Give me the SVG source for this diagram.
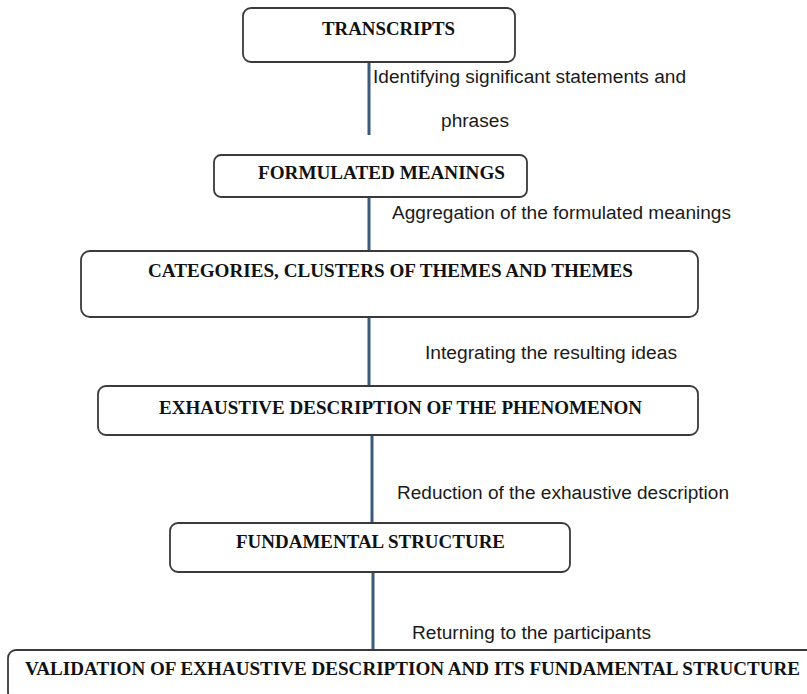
<svg xmlns="http://www.w3.org/2000/svg" width="807" height="694" viewBox="0 0 807 694">
<style>
.box{fill:#fff;stroke:#3a3a3a;stroke-width:1.8}
.t{font-family:"Liberation Serif","Times New Roman",serif;font-weight:bold;font-size:19.5px;fill:#111}
.l{font-family:"Liberation Sans",Arial,sans-serif;font-size:18px;fill:#1a1a1a}
.c{stroke:#3c5a7c;stroke-width:3;fill:none}
</style>
<g id="connectors">
<line class="c" x1="369" y1="62" x2="369" y2="135"/>
<line class="c" x1="369" y1="197" x2="369" y2="251"/>
<line class="c" x1="369" y1="317" x2="369" y2="386"/>
<line class="c" x1="372" y1="435" x2="372" y2="523"/>
<line class="c" x1="373" y1="572" x2="373" y2="650"/>
<text class="l" x="373" y="83" textLength="313" lengthAdjust="spacingAndGlyphs">Identifying significant statements and</text>
<text class="l" x="441" y="127" textLength="68" lengthAdjust="spacingAndGlyphs">phrases</text>
<text class="l" x="392" y="219" textLength="339" lengthAdjust="spacingAndGlyphs">Aggregation of the formulated meanings</text>
<text class="l" x="425" y="359" textLength="252" lengthAdjust="spacingAndGlyphs">Integrating the resulting ideas</text>
<text class="l" x="397" y="499" textLength="332" lengthAdjust="spacingAndGlyphs">Reduction of the exhaustive description</text>
<text class="l" x="412" y="639" textLength="239" lengthAdjust="spacingAndGlyphs">Returning to the participants</text>
</g>
<g id="n1"><rect class="box" x="243" y="8" width="272" height="54" rx="8"/><text class="t" x="322" y="35" textLength="133" lengthAdjust="spacingAndGlyphs">TRANSCRIPTS</text></g>
<g id="n2"><rect class="box" x="214" y="155" width="313" height="42" rx="7"/><text class="t" x="258" y="179" textLength="247" lengthAdjust="spacingAndGlyphs">FORMULATED MEANINGS</text></g>
<g id="n3"><rect class="box" x="81" y="251" width="617" height="66" rx="9"/><text class="t" x="148" y="277" textLength="485" lengthAdjust="spacingAndGlyphs">CATEGORIES, CLUSTERS OF THEMES AND THEMES</text></g>
<g id="n4"><rect class="box" x="98" y="386" width="600" height="49" rx="8"/><text class="t" x="159" y="414" textLength="483" lengthAdjust="spacingAndGlyphs">EXHAUSTIVE DESCRIPTION OF THE PHENOMENON</text></g>
<g id="n5"><rect class="box" x="170" y="523" width="400" height="49" rx="8"/><text class="t" x="236" y="548" textLength="269" lengthAdjust="spacingAndGlyphs">FUNDAMENTAL STRUCTURE</text></g>
<g id="n6"><rect class="box" x="8" y="650" width="810" height="50" rx="8"/><text class="t" x="25" y="675" textLength="775" lengthAdjust="spacingAndGlyphs">VALIDATION OF EXHAUSTIVE DESCRIPTION AND ITS FUNDAMENTAL STRUCTURE</text></g>
</svg>
